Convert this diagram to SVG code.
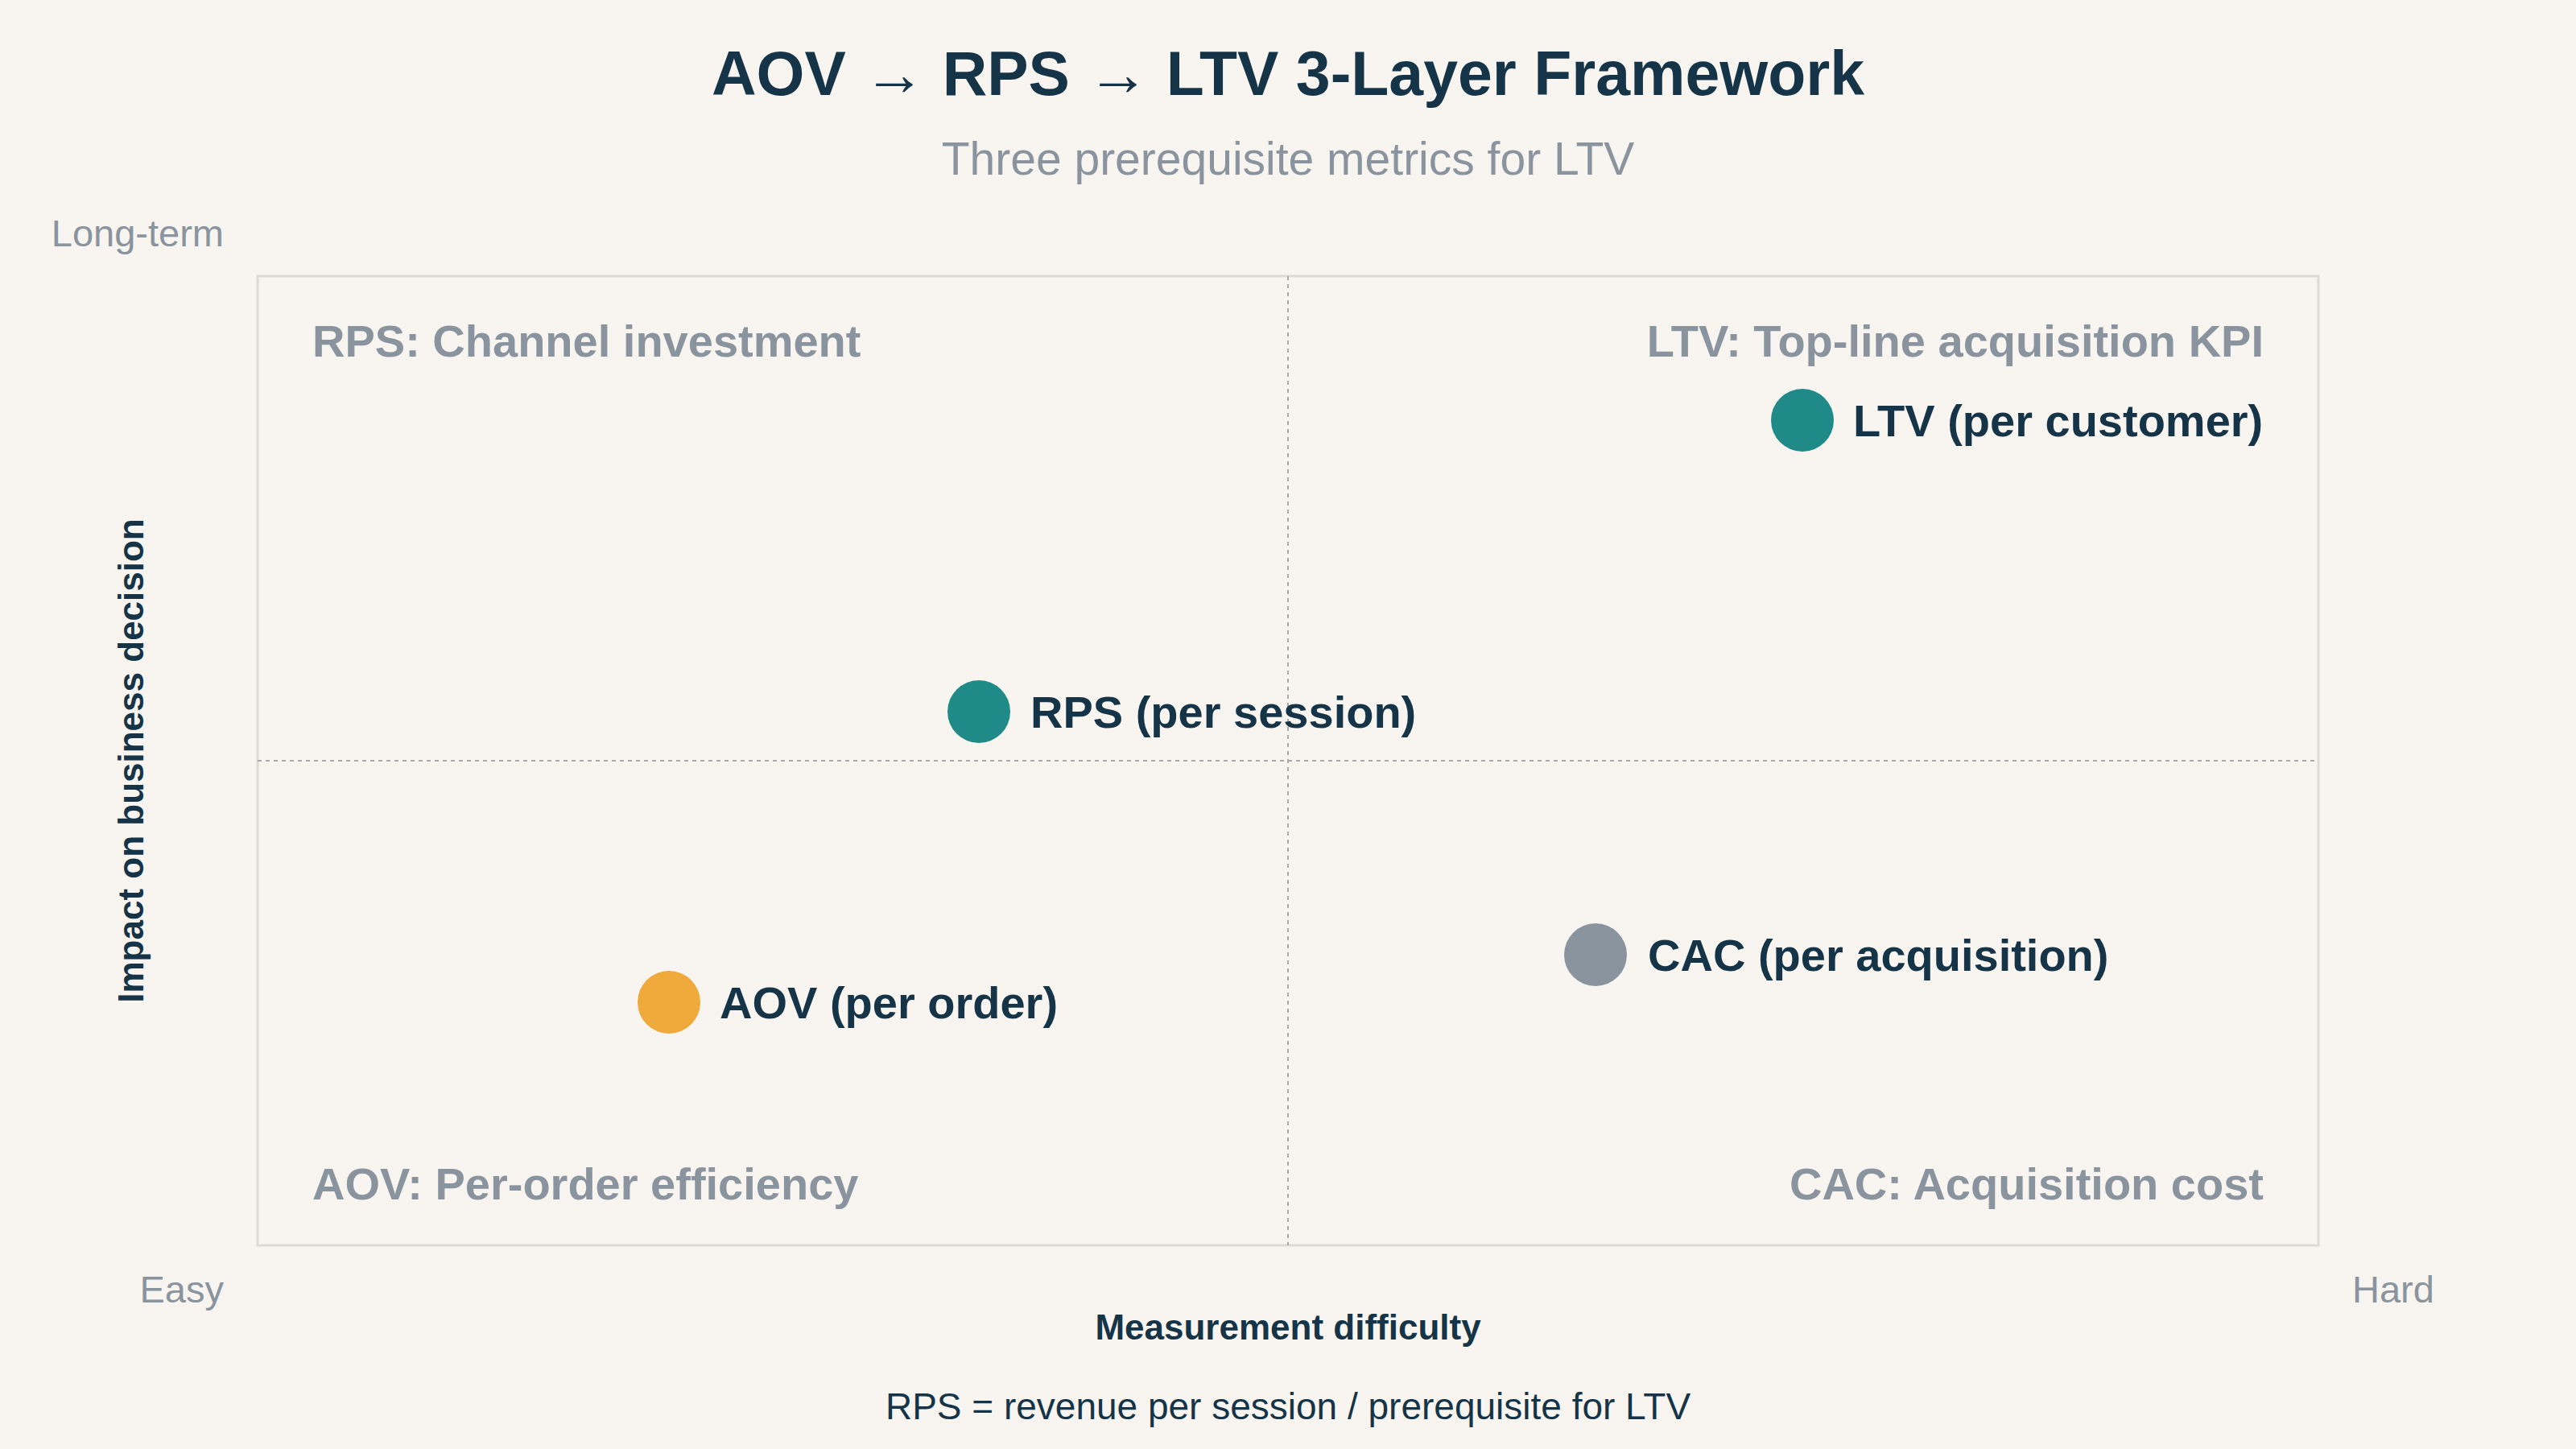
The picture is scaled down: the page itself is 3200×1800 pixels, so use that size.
<svg xmlns="http://www.w3.org/2000/svg" width="3200" height="1800" viewBox="0 0 3200 1800">
<style>
text{font-family:"Liberation Sans",Arial,sans-serif}
.t{fill:#163447;font-weight:bold}
.g{fill:#8a949f}
.q{fill:#8a949f;font-weight:bold;font-size:56px}
.pl{fill:#163447;font-weight:bold;font-size:56px}
.grid{stroke:#a9a9a9;stroke-width:2;stroke-dasharray:5 5;fill:none}
</style>
<rect width="3200" height="1800" fill="#f8f5f0"/>
<text class="t" x="1600" y="118" font-size="77" text-anchor="middle">AOV → RPS → LTV 3-Layer Framework</text>
<text class="g" x="1600" y="217" font-size="57" text-anchor="middle">Three prerequisite metrics for LTV</text>
<g id="plot">
<rect x="320" y="343" width="2560" height="1204" fill="none" stroke="#dddad5" stroke-width="3"/>
<line class="grid" x1="1600" y1="343" x2="1600" y2="1547"/>
<line class="grid" x1="320" y1="945" x2="2880" y2="945"/>
</g>
<text class="g" x="278" y="306" font-size="47" text-anchor="end">Long-term</text>
<text class="g" x="278" y="1618" font-size="47" text-anchor="end">Easy</text>
<text class="g" x="2922" y="1618" font-size="47">Hard</text>
<text class="t" x="1600" y="1664" font-size="44" text-anchor="middle">Measurement difficulty</text>
<text class="t" transform="translate(178,945) rotate(-90)" font-size="44" text-anchor="middle">Impact on business decision</text>
<text x="1600" y="1763" font-size="46" fill="#163447" text-anchor="middle">RPS = revenue per session / prerequisite for LTV</text>
<g id="quadrants">
<text class="q" x="388" y="443">RPS: Channel investment</text>
<text class="q" x="2812" y="443" text-anchor="end">LTV: Top-line acquisition KPI</text>
<text class="q" x="388" y="1490">AOV: Per-order efficiency</text>
<text class="q" x="2812" y="1490" text-anchor="end">CAC: Acquisition cost</text>
</g>
<g id="ltv"><circle cx="2239" cy="522" r="39" fill="#1f8a87"/><text class="pl" x="2302" y="542">LTV (per customer)</text></g>
<g id="rps"><circle cx="1216" cy="884" r="39" fill="#1f8a87"/><text class="pl" x="1280" y="904">RPS (per session)</text></g>
<g id="cac"><circle cx="1982" cy="1186" r="39" fill="#8a949f"/><text class="pl" x="2047" y="1206">CAC (per acquisition)</text></g>
<g id="aov"><circle cx="831" cy="1245" r="39" fill="#f0a93b"/><text class="pl" x="894" y="1265">AOV (per order)</text></g>
<g id="connectors"/>
</svg>
